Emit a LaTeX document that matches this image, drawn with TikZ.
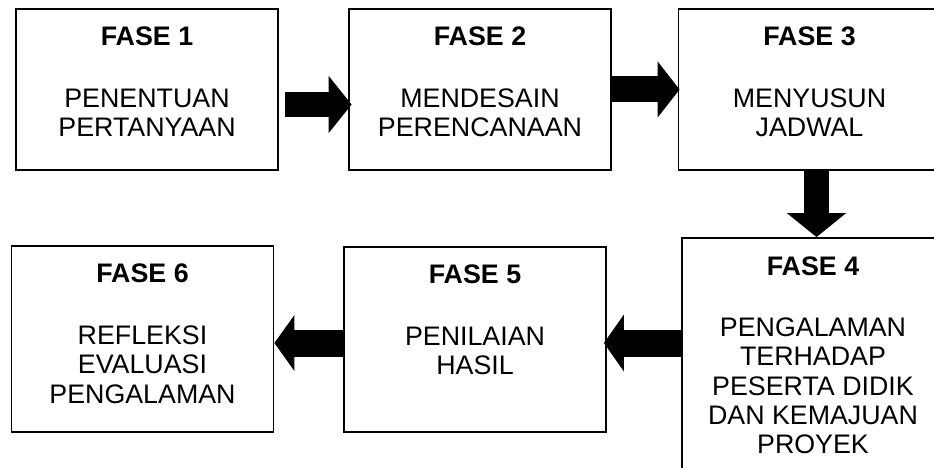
\documentclass[tikz,border=0pt]{standalone}
\usepackage{fontspec}
\setmainfont{Liberation Sans}
\usetikzlibrary{arrows.meta}
\tikzset{
  box/.style={draw=black, line width=1.8pt, fill=white, minimum width=262pt, inner sep=0pt},
  ttl/.style={anchor=north, inner sep=0pt, font=\fontsize{26.8pt}{29.2pt}\selectfont\bfseries},
  body/.style={anchor=north, inner sep=0pt, align=center, font=\fontsize{26.8pt}{29.2pt}\selectfont},
  blockarrow/.style={draw=black, line width=#1},
}
\begin{document}
\begin{tikzpicture}[x=1pt, y=-1pt]
\useasboundingbox (0,0) rectangle (934,468);
% boxes
\node[box, minimum height=161pt] (b1) at (147,89.5) {};
\node[box, minimum height=161pt] (b2) at (480,89.5) {};
\node[box, minimum height=161pt] (b3) at (809.5,89.5) {};
\node[box, minimum height=252pt] (b4) at (813,364) {};
\node[box, minimum height=185pt] (b5) at (475,339.5) {};
\node[box, minimum height=186pt] (b6) at (142.5,339) {};
% titles
\node[ttl] (t1) at ([yshift=-18.3pt]b1.north) {FASE 1};
\node[ttl] (t2) at ([yshift=-18.3pt]b2.north) {FASE 2};
\node[ttl] (t3) at ([yshift=-18.3pt]b3.north) {FASE 3};
\node[ttl] (t4) at ([yshift=-19.3pt]b4.north) {FASE 4};
\node[ttl] (t5) at ([yshift=-18.3pt]b5.north) {FASE 5};
\node[ttl] (t6) at ([yshift=-18.3pt]b6.north) {FASE 6};
% bodies
\node[body] (x1) at ([yshift=-80.7pt]b1.north) {PENENTUAN\\PERTANYAAN};
\node[body] (x2) at ([yshift=-80.7pt]b2.north) {MENDESAIN\\PERENCANAAN};
\node[body] (x3) at ([yshift=-80.7pt]b3.north) {MENYUSUN\\JADWAL};
\node[body] (x4) at ([yshift=-80.7pt]b4.north) {PENGALAMAN\\TERHADAP\\PESERTA DIDIK\\DAN KEMAJUAN\\PROYEK};
\node[body] (x5) at ([yshift=-80.7pt]b5.north) {PENILAIAN\\HASIL};
\node[body] (x6) at ([yshift=-80.7pt]b6.north) {REFLEKSI\\EVALUASI\\PENGALAMAN};
% arrows
\draw[blockarrow=25pt, -{Triangle[length=23pt, width=56pt]}]
  ([xshift=6pt, yshift=-15pt]b1.east) -- ([xshift=3.5pt, yshift=-15pt]b2.west);
\draw[blockarrow=26pt, -{Triangle[length=22pt, width=55pt]}]
  (b2.east) -- ([xshift=2pt]b3.west);
\draw[blockarrow=25pt, -{Triangle[length=24pt, width=58pt]}]
  ([xshift=7pt]b3.south) -- ([xshift=7pt]b3.south |- b4.north);
\draw[blockarrow=27pt, -{Triangle[length=20pt, width=56pt]}]
  (b4.west |- 0,343) -- ([xshift=-3pt]b5.east |- 0,343);
\draw[blockarrow=27pt, -{Triangle[length=20pt, width=55pt]}]
  (b5.west |- 0,343) -- (b6.east |- 0,343);
\end{tikzpicture}
\end{document}
